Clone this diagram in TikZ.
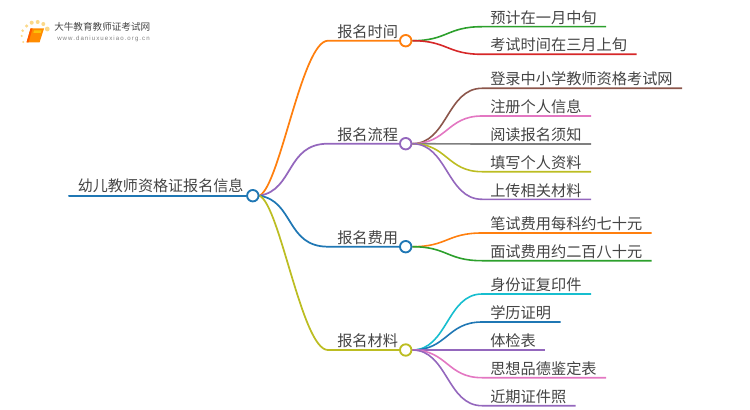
\documentclass[tikz,border=0pt]{standalone}
\usepackage{fontspec}
\setmainfont{Noto Sans CJK SC}[Scale=1]
\newfontfamily\latinf{Liberation Sans}
\definecolor{corange}{HTML}{FF7F0E}
\definecolor{cpurple}{HTML}{9467BD}
\definecolor{cblue}{HTML}{1F77B4}
\definecolor{colive}{HTML}{BCBD22}
\definecolor{cgreen}{HTML}{2CA02C}
\definecolor{cred}{HTML}{D62728}
\definecolor{cbrown}{HTML}{8C564B}
\definecolor{cpink}{HTML}{E377C2}
\definecolor{cgray}{HTML}{7F7F7F}
\definecolor{ccyan}{HTML}{17BECF}
\definecolor{ctext}{HTML}{444444}
\definecolor{sun}{HTML}{FBD98A}
\tikzset{
  hub/.style={circle,draw=#1,fill=white,line width=1.4pt,minimum size=8.6pt,inner sep=0pt},
  lab/.style={anchor=base west,inner sep=0pt,text=ctext,font=\fontsize{11.4pt}{12pt}\selectfont},
  trunk/.style={draw=#1,line width=1.5pt,line cap=round},
  limb/.style={draw=#1,line width=1.3pt},
  twig/.style={draw=#1,line width=1.2pt},
  dot/.style={circle,fill=sun,inner sep=0pt,minimum size=#1}
}
\begin{document}
\begin{tikzpicture}[x=0.75pt,y=-0.75pt]
\useasboundingbox (0,0) rectangle (750,410);
% coordinates
\coordinate (rs) at (69,195.7);
\node[hub=cblue,draw=none,fill=none] (r) at (252.8,195.7) {};
\foreach \n/\y in {a/40.7,b/143.7,c/246.7,d/350}{
  \node[hub=cblue,draw=none,fill=none] (\n) at (405.7,\y) {};
  \coordinate (\n k) at (328,\y);
}
% root
\draw[trunk=cblue] (rs) -- (r);
% limbs
\draw[limb=corange] (r.east) .. controls (280,186) and (302,40.7) .. (ak) -- (a);
\draw[limb=cpurple] (r.east) .. controls (294,190) and (286,143.7) .. (bk) -- (b);
\draw[limb=cblue] (r.east) .. controls (294,201) and (286,246.7) .. (ck) -- (c);
\draw[limb=colive] (r.east) .. controls (280,205) and (302,350) .. (dk) -- (d);
% leaves
\foreach \p/\n/\y/\e/\c in {
 a/a1/26.7/606/cgreen, a/a2/54.3/636.7/cred,
 b/b1/88.3/682/cbrown, b/b2/116/591/cpink, b/b3/144/591/cgray, b/b4/171.7/591/colive, b/b5/199.3/591/cpurple,
 c/c1/233/651.7/corange, c/c2/260.7/651.7/cgreen,
 d/d1/294/591/ccyan, d/d2/322/560.7/cblue, d/d3/350/545/cpurple, d/d4/377.7/606/cpink, d/d5/405.7/575.7/cpurple}{
  \coordinate (\n k) at (482,\y);
  \coordinate (\n e) at (\e,\y);
  \draw[twig=\c] (\p.east) .. controls +(35,0) and +(-35,0) .. (\n k) -- (\n e);
}
% hubs
\node[hub=cblue] (r2) at (r) {};
\node[hub=corange] (a2h) at (a) {};
\node[hub=cpurple] (b2h) at (b) {};
\node[hub=cblue] (c2h) at (c) {};
\node[hub=colive] (d2h) at (d) {};
% text
\node[lab,font=\fontsize{11.3pt}{12pt}\selectfont] (tr) at (77.5,191) {幼儿教师资格证报名信息};
\node[lab] (ta) at (337,37.3) {报名时间};
\node[lab] (tb) at (337,140.3) {报名流程};
\node[lab] (tc) at (337,243.3) {报名费用};
\node[lab] (td) at (337,346.6) {报名材料};
\foreach \n/\y/\t in {
 a1/23.3/预计在一月中旬, a2/50.8/考试时间在三月上旬,
 b1/84.8/登录中小学教师资格考试网, b2/112.8/注册个人信息, b3/140.6/阅读报名须知, b4/168.3/填写个人资料, b5/196/上传相关材料,
 c1/229.8/笔试费用每科约七十元, c2/257.3/面试费用约二百八十元,
 d1/290.8/身份证复印件, d2/318.8/学历证明, d3/346.8/体检表, d4/374.3/思想品德鉴定表, d5/402.3/近期证件照}{
  \node[lab] (t\n) at (490,\y) {\t};
}
% logo
\foreach \i/\x/\y/\s in {1/22.7/30.7/2.2pt,2/26.7/26/2.6pt,3/31.7/22.7/3pt,4/37.7/22/3pt,5/43.3/24/3pt,6/47.3/29/3.6pt,7/21.7/36/1.8pt,8/23.3/42/1.6pt}{
  \node[dot=\s] (s\i) at (\x,\y) {};
}
\fill[orange!90!yellow] (30.5,28.5) -- (44,28.5) -- (40,41) -- (39.5,42.5) -- (26.5,42.5) -- cycle;
\fill[orange!70!red] (30.5,28.5) -- (32.5,28.5) -- (28.5,42.5) -- (26.5,42.5) -- cycle;
\fill[yellow!55!orange] (34,30.5) -- (41.5,30.5) -- (40.8,33) -- (33.3,33) -- cycle;
\node[anchor=west,inner sep=0pt,text=ctext,font=\fontsize{7.2pt}{8pt}\selectfont] (lg1) at (54,27.3) {大牛教育教师证考试网};
\node[anchor=west,inner sep=0pt,text=gray,font=\latinf\fontsize{4.6pt}{5pt}\selectfont\addfontfeatures{LetterSpace=17}] (lg2) at (57,39.3) {www.daniuxuexiao.org.cn};
\end{tikzpicture}
\end{document}
